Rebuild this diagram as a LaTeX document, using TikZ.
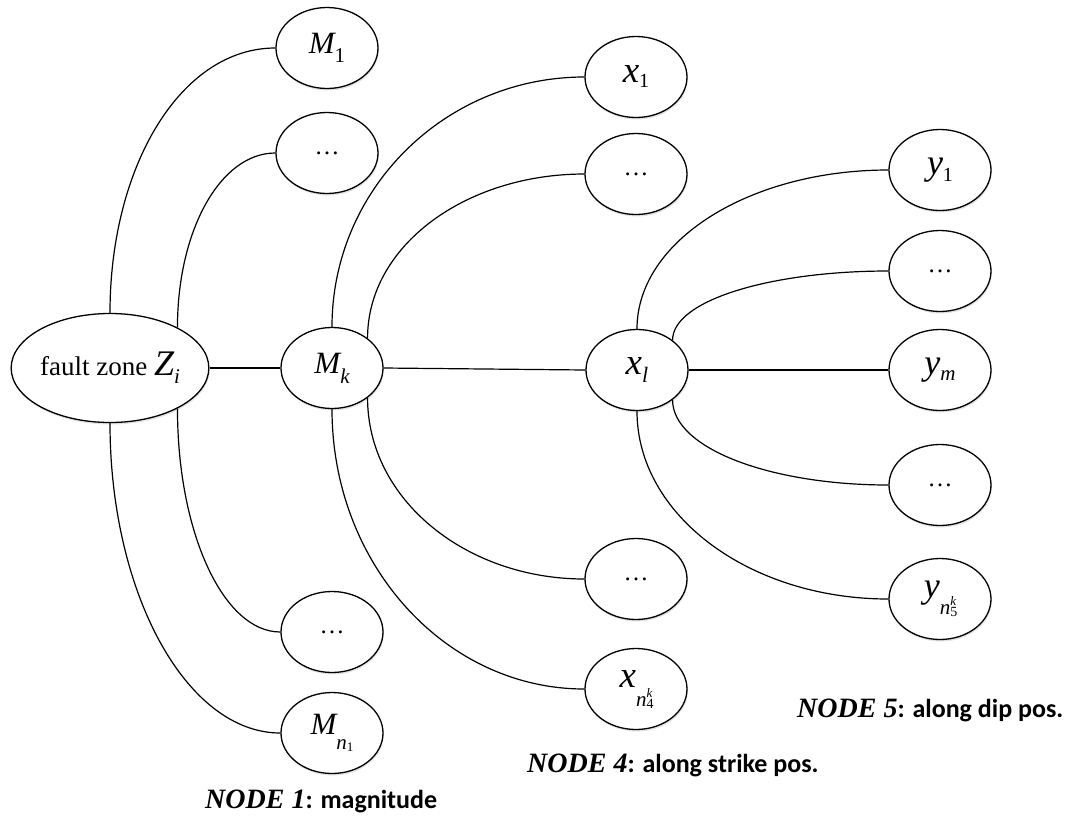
\documentclass[tikz,border=0pt]{standalone}
\usepackage{fontspec}
\setmainfont{Liberation Serif}
\newfontfamily\labfont{Carlito}
\usetikzlibrary{shapes.geometric,shadows}
\newcommand{\fs}[1]{\fontsize{#1}{#1}\selectfont}
\newcommand{\lbl}[2]{{\fs{28}\textbf{\textit{#1}}}{\fs{26}\labfont\bfseries #2}}
\begin{document}
\begin{tikzpicture}[x=1pt,y=-1pt,
  el/.style={ellipse,draw,line width=1.3pt,fill=white,inner sep=0pt,
    minimum width=102pt,minimum height=81pt,
    drop shadow={shadow xshift=0.8pt,shadow yshift=-2pt,opacity=0.22}},
  conn/.style={line width=1.2pt},
  lab/.style={anchor=base west,inner sep=0pt}]
\useasboundingbox (0,0) rectangle (1072,815);

% fault zone
\node[el,minimum width=194pt,minimum height=109pt] (z) at (110,368)
  {\fs{27}fault zone {\fs{36}\itshape Z}\raisebox{-8pt}{\fs{21}\itshape i}};

% NODE 1
\node[el] (m1) at (327,48) {{\fs{31}\itshape M}\raisebox{-9pt}{\fs{21}1}};
\node[el] (d1) at (327,153) {\fs{25}\dots};
\node[el] (mk) at (332,368) {{\fs{31}\itshape M}\raisebox{-10pt}{\fs{21}\itshape k}};
\node[el] (d2) at (332,632) {\fs{25}\dots};
\node[el] (mn) at (332,733) {{\fs{31}\itshape M}\raisebox{-15pt}{\fs{21}\itshape n\raisebox{-2pt}{\fs{13}\upshape 1}}};

% NODE 4
\node[el] (x1) at (636,77) {{\fs{37}\itshape x}\raisebox{-5pt}{\fs{20}1}};
\node[el] (dx1) at (636,174) {\fs{25}\dots};
\node[el] (xl) at (637,370) {{\fs{37}\itshape x}\raisebox{-8pt}{\fs{22}\itshape l}};
\node[el] (dx2) at (636,579) {\fs{25}\dots};
\node[el] (xn) at (636,689) {{\fs{37}\itshape x}\raisebox{-19pt}{\fs{21}\itshape n\rlap{\raisebox{-2pt}{\fs{14}\upshape 4}}\raisebox{9pt}{\fs{13}\itshape k}}};

% NODE 5
\node[el] (y1) at (940,170) {{\fs{36}\itshape y}\raisebox{-7pt}{\fs{20}1}};
\node[el] (dy1) at (940,271) {\fs{25}\dots};
\node[el] (ym) at (940,370) {{\fs{36}\itshape y}\raisebox{-6pt}{\fs{21}\itshape m}};
\node[el] (dy2) at (940,485) {\fs{25}\dots};
\node[el] (yn) at (940,599) {{\fs{36}\itshape y}\raisebox{-17pt}{\fs{21}\itshape n\rlap{\raisebox{-2pt}{\fs{14}\upshape 5}}\raisebox{9pt}{\fs{13}\itshape k}}};

% connectors
\draw[conn] (z.east) -- (mk.west);
\draw[conn] (mk.east) -- (xl.west);
\draw[conn] (xl.east) -- (ym.west);

\draw[conn] (z.north) .. controls ([yshift=146pt]z.north) and ([xshift=-95pt]m1.west) .. (m1.west);
\draw[conn] (z.31) .. controls ([yshift=97pt]z.31) and ([xshift=-55pt]d1.west) .. (d1.west);
\draw[conn] (z.-31) .. controls ([yshift=-124pt]z.-31) and ([xshift=-57pt]d2.west) .. (d2.west);
\draw[conn] (z.south) .. controls ([yshift=-170pt]z.south) and ([xshift=-94pt]mn.west) .. (mn.west);

\draw[conn] (mk.north) .. controls ([yshift=138pt]mk.north) and ([xshift=-139pt]x1.west) .. (x1.west);
\draw[conn] (mk.40) .. controls ([yshift=93pt]mk.40) and ([xshift=-118pt]dx1.west) .. (dx1.west);
\draw[conn] (mk.-40) .. controls ([yshift=-102pt]mk.-40) and ([xshift=-118pt]dx2.west) .. (dx2.west);
\draw[conn] (mk.south) .. controls ([yshift=-155pt]mk.south) and ([xshift=-139pt]xn.west) .. (xn.west);

\draw[conn] (xl.north) .. controls ([yshift=88pt]xl.north) and ([xshift=-139pt]y1.west) .. (y1.west);
\draw[conn] (xl.40) .. controls ([yshift=40pt]xl.40) and ([xshift=-117pt]dy1.west) .. (dy1.west);
\draw[conn] (xl.-40) .. controls ([yshift=-49pt]xl.-40) and ([xshift=-117pt]dy2.west) .. (dy2.west);
\draw[conn] (xl.south) .. controls ([yshift=-104pt]xl.south) and ([xshift=-139pt]yn.west) .. (yn.west);

% labels
\node[lab] (l1) at (205,808) {\lbl{NODE 1}{: magnitude}};
\node[lab] (l4) at (527,772) {\lbl{NODE 4}{: along strike pos.}};
\node[lab] (l5) at (797,717) {\lbl{NODE 5}{: along dip pos.}};
\end{tikzpicture}
\end{document}
